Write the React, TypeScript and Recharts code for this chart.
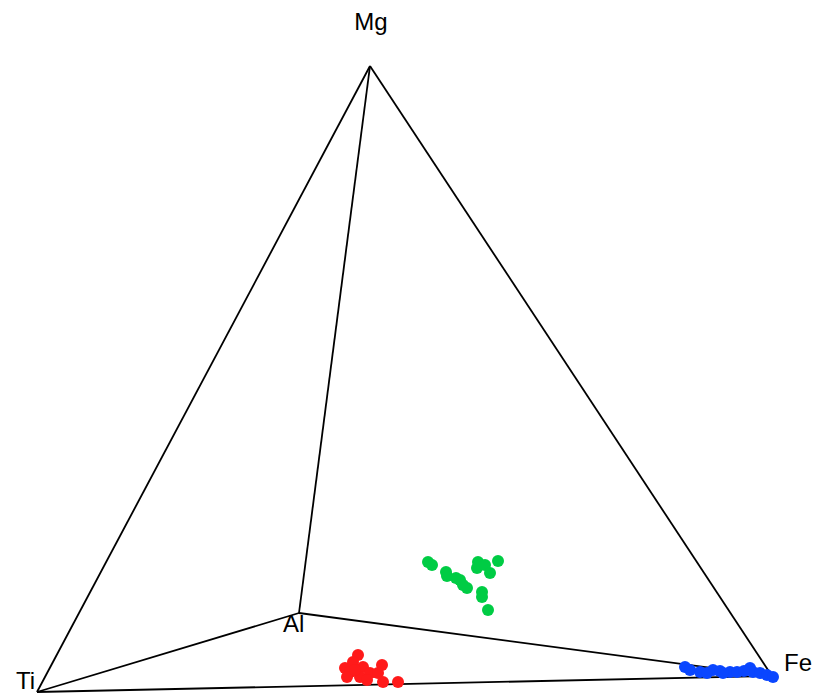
import React from 'react';
import { ScatterChart, Scatter, XAxis, YAxis, ReferenceLine } from 'recharts';

// Projected tetrahedron corners (screen-like units, y grows downward)
const vertices = [
  { name: 'Mg', x: 370, y: 66 },
  { name: 'Ti', x: 37, y: 692 },
  { name: 'Al', x: 299, y: 613 },
  { name: 'Fe', x: 772, y: 676 },
];

const edges: [string, string][] = [
  ['Ti', 'Mg'],
  ['Mg', 'Fe'],
  ['Mg', 'Al'],
  ['Ti', 'Al'],
  ['Al', 'Fe'],
  ['Ti', 'Fe'],
];

const greenPoints = [
  { x: 428, y: 562 }, { x: 432, y: 565 }, { x: 446, y: 572 }, { x: 447, y: 576 },
  { x: 460, y: 580 }, { x: 463, y: 585 }, { x: 467, y: 588 }, { x: 478, y: 562 },
  { x: 477, y: 568 }, { x: 485, y: 565 }, { x: 490, y: 573 }, { x: 498, y: 561 },
  { x: 482, y: 592 }, { x: 482, y: 597 }, { x: 488, y: 610 }, { x: 456, y: 578 },
];

const redPoints = [
  { x: 358, y: 655 }, { x: 345, y: 668 }, { x: 350, y: 672 }, { x: 363, y: 667 },
  { x: 360, y: 677 }, { x: 347, y: 677 }, { x: 370, y: 673 }, { x: 382, y: 665 },
  { x: 378, y: 673 }, { x: 383, y: 682 }, { x: 398, y: 682 }, { x: 353, y: 662 },
  { x: 367, y: 680 }, { x: 355, y: 670 },
];

const bluePoints = [
  { x: 685, y: 667 }, { x: 690, y: 670 }, { x: 700, y: 672 }, { x: 713, y: 670 },
  { x: 720, y: 671 }, { x: 730, y: 672 }, { x: 737, y: 672 }, { x: 750, y: 668 },
  { x: 753, y: 672 }, { x: 760, y: 673 }, { x: 767, y: 675 }, { x: 773, y: 677 },
  { x: 707, y: 673 }, { x: 723, y: 673 }, { x: 744, y: 671 },
];

const labelOffsets: Record<string, { dx: number; dy: number; anchor: 'start' | 'middle' | 'end' }> = {
  Mg: { dx: 1, dy: -36, anchor: 'middle' },
  Ti: { dx: -2, dy: -3, anchor: 'end' },
  Al: { dx: -16, dy: 19, anchor: 'start' },
  Fe: { dx: 12, dy: -5, anchor: 'start' },
};

const byName = (n: string) => vertices.find((v) => v.name === n)!;

const dot = (color: string) => (p: any) => (
  <circle cx={p.cx} cy={p.cy} r={6} fill={color} />
);

const vertexLabel = (p: any) => {
  const o = labelOffsets[p.payload.name];
  return (
    <text
      x={p.cx + o.dx}
      y={p.cy + o.dy}
      textAnchor={o.anchor}
      fontSize={24}
      fontFamily="Liberation Sans, Arial, sans-serif"
      fill="#000"
    >
      {p.payload.name}
    </text>
  );
};

export default function App() {
  return (
    <div style={{ position: 'absolute', left: 0, top: 0, background: '#fff' }}>
      <ScatterChart width={816} height={694} margin={{ top: 0, right: 0, bottom: 0, left: 0 }}>
        <XAxis type="number" dataKey="x" domain={[0, 816]} hide />
        <YAxis type="number" dataKey="y" domain={[0, 694]} reversed hide />
        {edges.map(([a, b]) => {
          const p = byName(a);
          const q = byName(b);
          return (
            <ReferenceLine
              key={a + b}
              segment={[{ x: p.x, y: p.y }, { x: q.x, y: q.y }]}
              stroke="#000"
              strokeWidth={1.8}
              ifOverflow="visible"
            />
          );
        })}
        <Scatter data={greenPoints} shape={dot('#00cc44')} isAnimationActive={false} />
        <Scatter data={redPoints} shape={dot('#ff1a1a')} isAnimationActive={false} />
        <Scatter data={bluePoints} shape={dot('#0a46ff')} isAnimationActive={false} />
        <Scatter data={vertices} shape={vertexLabel} isAnimationActive={false} />
      </ScatterChart>
    </div>
  );
}
